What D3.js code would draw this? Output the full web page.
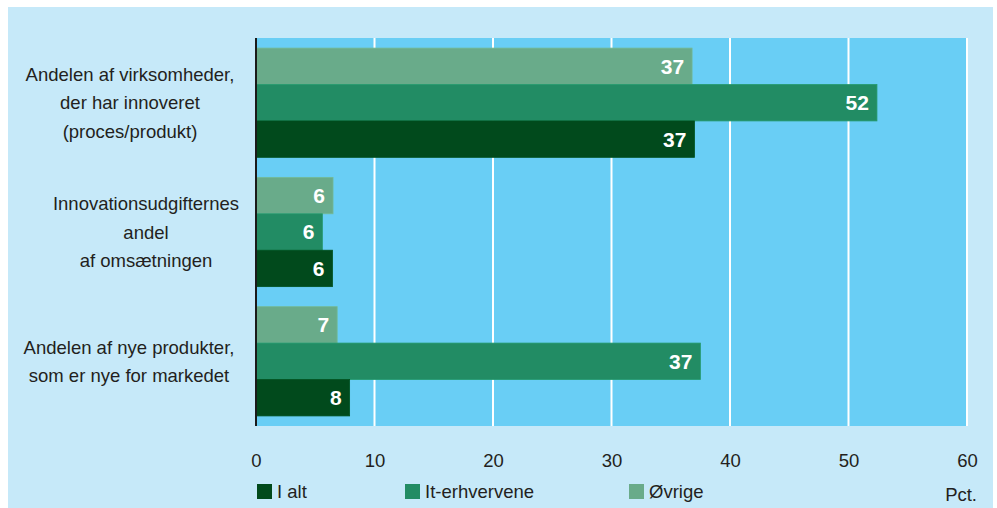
<!DOCTYPE html>
<html><head><meta charset="utf-8">
<script src="https://cdn.jsdelivr.net/npm/d3@7"></script>
<style>
html,body{margin:0;padding:0;background:#fff;}
svg{display:block;font-family:"Liberation Sans",Arial,sans-serif;}
</style></head>
<body>
<svg id="chart" width="997" height="508"></svg>
<script>
const categories = ["Andelen af virksomheder, der har innoveret (proces/produkt)",
  "Innovationsudgifternes andel af omsætningen",
  "Andelen af nye produkter, som er nye for markedet"];
const categoryLines = [
  ["Andelen af virksomheder,", "der har innoveret", "(proces/produkt)"],
  ["Innovationsudgifternes", "andel", "af omsætningen"],
  ["Andelen af nye produkter,", "som er nye for markedet"]
];
const seriesNames = ["Øvrige", "It-erhvervene", "I alt"];
const ovrige = [36.8, 6.5, 6.85];
const itErhvervene = [52.4, 5.6, 37.5];
const iAlt = [37.0, 6.45, 7.9];
const ovrigeLabels = ["37", "6", "7"];
const itLabels = ["52", "6", "37"];
const iAltLabels = ["37", "6", "8"];
const ticks = [0, 10, 20, 30, 40, 50, 60];
const legendOrder = ["I alt", "It-erhvervene", "Øvrige"];
const unitLabel = "Pct.";

const colors = {"Øvrige": "#69ab8a", "It-erhvervene": "#228c64", "I alt": "#014a1c"};
const seriesValues = {"Øvrige": ovrige, "It-erhvervene": itErhvervene, "I alt": iAlt};
const seriesLabels = {"Øvrige": ovrigeLabels, "It-erhvervene": itLabels, "I alt": iAltLabels};

const svg = d3.select("#chart");
svg.append("rect").attr("x", 8).attr("y", 7).attr("width", 985).attr("height", 501).attr("fill", "#c6e9f9");

const x = d3.scaleLinear().domain([0, 60]).range([256, 967]);
const plotTop = 38, plotBottom = 426;
const y = d3.scaleBand().domain(categories).range([plotTop, plotBottom]).paddingInner(0.155).paddingOuter(0.078);
const ySub = d3.scaleBand().domain(seriesNames).range([0, y.bandwidth()]);

svg.append("rect").attr("x", x(0)).attr("y", plotTop).attr("width", x(60) - x(0)).attr("height", plotBottom - plotTop).attr("fill", "#69cef5");

svg.append("g").selectAll("line").data(ticks.filter(t => t > 0)).join("line")
  .attr("x1", d => x(d)).attr("x2", d => x(d)).attr("y1", plotTop).attr("y2", plotBottom)
  .attr("stroke", "#ffffff").attr("stroke-width", 2);

const groups = svg.append("g").selectAll("g").data(categories).join("g")
  .attr("transform", d => `translate(0,${y(d)})`);
groups.each(function(cat, ci) {
  const g = d3.select(this);
  seriesNames.forEach(s => {
    const v = seriesValues[s][ci];
    g.append("rect").attr("x", x(0)).attr("y", ySub(s)).attr("width", x(v) - x(0)).attr("height", ySub.bandwidth())
      .attr("fill", colors[s]).attr("stroke", d3.color(colors[s]).brighter(0.25)).attr("stroke-width", 0.8);
    g.append("text").attr("x", x(v) - 8).attr("y", ySub(s) + ySub.bandwidth() / 2 + 7.5)
      .attr("text-anchor", "end").attr("fill", "#fff").attr("font-weight", "bold")
      .attr("font-family", '"Liberation Sans Narrow","Liberation Sans",Arial,sans-serif')
      .attr("font-size", 21).text(seriesLabels[s][ci]);
  });
});

svg.append("line").attr("x1", x(0)).attr("x2", x(0)).attr("y1", plotTop).attr("y2", plotBottom)
  .attr("stroke", "#1a1a1a").attr("stroke-width", 2);

const labelCenters = [130, 146, 129];
categories.forEach((cat, ci) => {
  const lines = categoryLines[ci];
  const cy = y(cat) + y.bandwidth() / 2;
  const lh = 28.5;
  const first = cy - (lines.length - 1) * lh / 2 + 6.5;
  lines.forEach((ln, li) => {
    svg.append("text").attr("x", labelCenters[ci]).attr("y", first + li * lh)
      .attr("text-anchor", "middle").attr("fill", "#231f20").attr("font-size", 18.5).text(ln);
  });
});

const xAxis = d3.axisBottom(x).tickValues(ticks).tickSize(0).tickPadding(0);
const ax = svg.append("g").attr("transform", `translate(0,${plotBottom})`).call(xAxis);
ax.select(".domain").remove();
ax.selectAll("text").attr("y", 41).attr("dy", null).attr("font-size", 18.5)
  .attr("font-family", '"Liberation Sans",Arial,sans-serif').attr("fill", "#231f20");

const legendX = [257, 405, 629];
legendOrder.forEach((s, i) => {
  svg.append("rect").attr("x", legendX[i]).attr("y", 484).attr("width", 15).attr("height", 15).attr("fill", colors[s]);
  svg.append("text").attr("x", legendX[i] + 20).attr("y", 498).attr("font-size", 18.5).attr("fill", "#231f20").text(s);
});
svg.append("text").attr("x", 977).attr("y", 501).attr("text-anchor", "end").attr("font-size", 18.5).attr("fill", "#231f20").text(unitLabel);
</script>
</body></html>
